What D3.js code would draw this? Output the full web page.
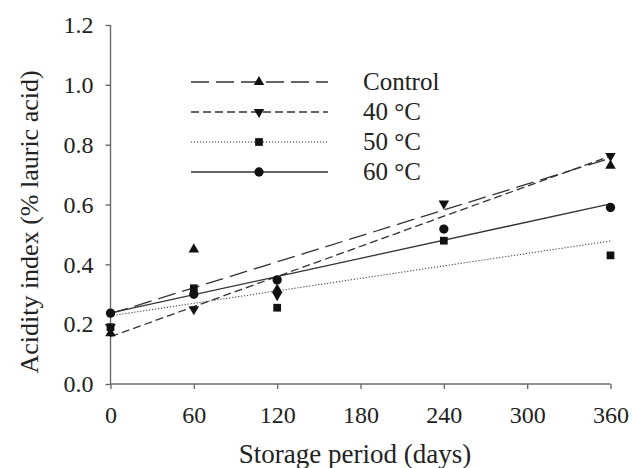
<!DOCTYPE html>
<html>
<head>
<meta charset="utf-8">
<script src="https://cdn.jsdelivr.net/npm/d3@7"></script>
<style>
  html, body { margin: 0; padding: 0; background: #fff; }
  svg { display: block; }
</style>
</head>
<body>
<svg id="chart" width="633" height="468"></svg>
<script>
// Storage days at which acidity was measured
const days = [0, 60, 120, 240, 360];

// Acidity index (% lauric acid) per storage treatment (null = no marker)
const control = [0.17, 0.45, 0.316, null, 0.73];
const temp40  = [0.19, 0.25, 0.297, 0.603, 0.762];
const temp50  = [0.19, 0.32, 0.255, 0.479, 0.43];
const temp60  = [0.237, 0.30, 0.348, 0.518, 0.59];

// Linear trend lines: fitted value at day 0 and at day 360
const trendDays     = [0, 360];
const controlTrend  = [0.235, 0.755];
const temp40Trend   = [0.158, 0.762];
const temp50Trend   = [0.228, 0.478];
const temp60Trend   = [0.238, 0.602];

const seriesNames = ["Control", "40 °C", "50 °C", "60 °C"];

const xTicks = [0, 60, 120, 180, 240, 300, 360];
const yTicks = [0.0, 0.2, 0.4, 0.6, 0.8, 1.0, 1.2];

const FONT = "'Liberation Serif', 'Times New Roman', Times, 'DejaVu Serif', serif";

const series = [
  { name: seriesNames[0], values: control, trend: controlTrend, symbol: d3.symbolTriangle, rotate: 0,   dash: "18,7" },
  { name: seriesNames[1], values: temp40,  trend: temp40Trend,  symbol: d3.symbolTriangle, rotate: 180, dash: "8,4" },
  { name: seriesNames[2], values: temp50,  trend: temp50Trend,  symbol: d3.symbolSquare,   rotate: 0,   dash: "1.2,1.8" },
  { name: seriesNames[3], values: temp60,  trend: temp60Trend,  symbol: d3.symbolCircle,   rotate: 0,   dash: null }
];

const symbolSize = { triangle: 48, square: 60, circle: 68 };

const svg = d3.select("#chart");
const plotLeft = 110.5, plotRight = 610.5, plotTop = 25, plotBottom = 384;

const x = d3.scaleLinear().domain([0, 360]).range([plotLeft, plotRight]);
const y = d3.scaleLinear().domain([0, 1.2]).range([plotBottom, plotTop]);

const lineColor = "#333";
const axisColor = "#6a6a6a";

// axes
const yAxis = d3.axisLeft(y).tickValues(yTicks).tickFormat(d3.format(".1f")).tickSize(5).tickPadding(12);
const xAxis = d3.axisBottom(x).tickValues(xTicks).tickFormat(d3.format("d")).tickSize(5).tickPadding(17);

const gy = svg.append("g").attr("transform", `translate(${plotLeft},0)`).call(yAxis);
const gx = svg.append("g").attr("transform", `translate(0,${plotBottom})`).call(xAxis);

[gx, gy].forEach(g => {
  g.select(".domain").attr("stroke", axisColor).attr("stroke-width", 1.4);
  g.selectAll(".tick line").attr("stroke", axisColor).attr("stroke-width", 1.4);
  g.selectAll(".tick text")
    .style("font-family", FONT)
    .style("font-size", "24px")
    .attr("fill", "#222");
});
gx.select(".domain").attr("d", `M${plotLeft},0H${plotRight}`);
gy.select(".domain").attr("d", `M0,${plotBottom}V${plotTop}`);

// axis titles
svg.append("text")
  .attr("x", 355)
  .attr("y", 463)
  .attr("text-anchor", "middle")
  .style("font-family", FONT)
  .style("font-size", "27px")
  .attr("fill", "#222")
  .text("Storage period (days)");

svg.append("text")
  .attr("transform", "translate(38,222) rotate(-90)")
  .attr("text-anchor", "middle")
  .style("font-family", FONT)
  .style("font-size", "26px")
  .attr("fill", "#222")
  .text("Acidity index (% lauric acid)");

// trend lines
const plot = svg.append("g");
const trendLine = d3.line().x((d, i) => x(trendDays[i])).y(d => y(d));
series.forEach(s => {
  plot.append("path")
    .attr("d", trendLine(s.trend))
    .attr("fill", "none")
    .attr("stroke", lineColor)
    .attr("stroke-width", s.dash === "1.2,1.8" ? 1 : 1.3)
    .attr("stroke-dasharray", s.dash);
});

function symPath(s) {
  const size = s.symbol === d3.symbolCircle ? symbolSize.circle
             : s.symbol === d3.symbolSquare ? symbolSize.square : symbolSize.triangle;
  return d3.symbol().type(s.symbol).size(size)();
}

// data markers
series.forEach(s => {
  plot.selectAll(null)
    .data(s.values.map((v, i) => [days[i], v]).filter(d => d[1] != null))
    .join("path")
    .attr("d", symPath(s))
    .attr("transform", d => `translate(${x(d[0])},${y(d[1])}) rotate(${s.rotate})`)
    .attr("fill", "#111");
});

// legend
const legend = svg.append("g");
const rowY = [82, 112, 142, 172];
series.forEach((s, i) => {
  legend.append("line")
    .attr("x1", 191).attr("x2", 328)
    .attr("y1", rowY[i]).attr("y2", rowY[i])
    .attr("stroke", lineColor)
    .attr("stroke-width", s.dash === "1.2,1.8" ? 1 : 1.3)
    .attr("stroke-dasharray", s.dash);
  legend.append("path")
    .attr("d", symPath(s))
    .attr("transform", `translate(259,${rowY[i]}) rotate(${s.rotate})`)
    .attr("fill", "#111");
  legend.append("text")
    .attr("x", 363).attr("y", rowY[i] + 8)
    .style("font-family", FONT)
    .style("font-size", "25px")
    .attr("fill", "#222")
    .text(s.name);
});
</script>
</body>
</html>
